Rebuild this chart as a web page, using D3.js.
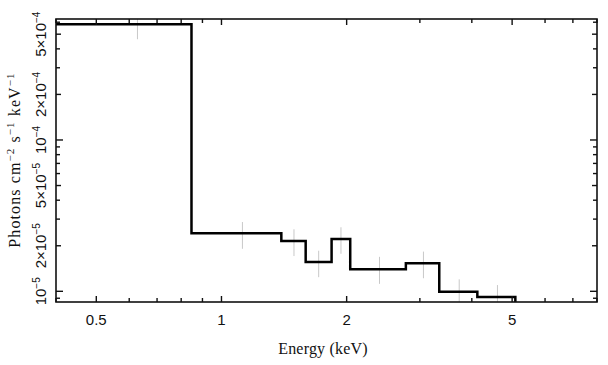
<!DOCTYPE html>
<html><head><meta charset="utf-8">
<script src="https://cdn.jsdelivr.net/npm/d3@7"></script>
<style>
body{margin:0;background:#fff;}
svg{display:block;}
.tick{font-family:"Liberation Sans",Arial,sans-serif;}
</style></head>
<body><svg id="c" width="608" height="365"></svg>
<script>
// ---- data ----
const binLo = [0.30, 0.847, 1.393, 1.594, 1.840, 2.040, 2.776, 3.34, 4.124];
const binHi = [0.847, 1.393, 1.594, 1.840, 2.040, 2.776, 3.34, 4.124, 5.09];
const flux  = [5.82e-4, 2.42e-5, 2.15e-5, 1.56e-5, 2.22e-5, 1.40e-5, 1.53e-5, 9.95e-6, 9.17e-6];
const errE  = [0.628, 1.123, 1.494, 1.713, 1.938, 2.399, 3.06, 3.73, 4.61];
const errLo = [4.63e-4, 1.91e-5, 1.71e-5, 1.24e-5, 1.77e-5, 1.12e-5, 1.22e-5, 7.9e-6, 7.3e-6];
const errHi = [7.0e-4, 2.87e-5, 2.57e-5, 1.855e-5, 2.65e-5, 1.69e-5, 1.83e-5, 1.2e-5, 1.1e-5];
const xTickLabels = [0.5, 1, 2, 5];
const xMinor = [0.4, 0.6, 0.7, 0.8, 0.9, 3, 4, 6, 7, 8];
const yTickLabels = [[1e-5, "", "5"], [2e-5, "2×", "5"], [5e-5, "5×", "5"], [1e-4, "", "4"], [2e-4, "2×", "4"], [5e-4, "5×", "4"]];
const yMinor = [9e-6, 3e-5, 4e-5, 6e-5, 7e-5, 8e-5, 9e-5, 3e-4, 4e-4, 6e-4];

// ---- layout ----
const L = 56, R = 597, T = 19, B = 302;
const svg = d3.select("#c");
const x = d3.scaleLog().domain([0.4, 8]).range([L, R]);
const y = d3.scaleLog().domain([8.5e-6, 6.3e-4]).range([B, T]);

svg.append("clipPath").attr("id", "clip").append("rect")
  .attr("x", L).attr("y", T).attr("width", R - L).attr("height", B - T);
const plot = svg.append("g").attr("clip-path", "url(#clip)");

// error bars
plot.selectAll("line.err").data(flux).join("line").attr("class", "err")
  .attr("x1", (d, i) => x(errE[i])).attr("x2", (d, i) => x(errE[i]))
  .attr("y1", (d, i) => y(errLo[i])).attr("y2", (d, i) => y(errHi[i]))
  .attr("stroke", "#c8c8c8").attr("stroke-width", 1);

// step histogram
const pts = [];
flux.forEach((f, i) => { pts.push([binLo[i], f]); pts.push([binHi[i], f]); });
pts.push([binHi[binHi.length - 1], 1e-6]);
plot.append("path")
  .attr("d", d3.line().x(d => x(d[0])).y(d => y(d[1]))(pts))
  .attr("fill", "none").attr("stroke", "#000").attr("stroke-width", 2.5)
  .attr("stroke-linejoin", "miter");

// frame
svg.append("rect").attr("x", L).attr("y", T).attr("width", R - L).attr("height", B - T)
  .attr("fill", "none").attr("stroke", "#111").attr("stroke-width", 1.6);

// x ticks (inward, bottom and top)
const xT = xTickLabels.map(v => [v, 6]).concat(xMinor.map(v => [v, 4]));
xT.forEach(([v, len]) => {
  const px = x(v);
  svg.append("line").attr("x1", px).attr("x2", px).attr("y1", B).attr("y2", B - len)
    .attr("stroke", "#111").attr("stroke-width", 1.4);
  svg.append("line").attr("x1", px).attr("x2", px).attr("y1", T).attr("y2", T + len)
    .attr("stroke", "#111").attr("stroke-width", 1.4);
});
svg.selectAll("text.xl").data(xTickLabels).join("text").attr("class", "tick xl")
  .attr("x", d => x(d)).attr("y", 325).attr("text-anchor", "middle")
  .attr("font-size", 15).attr("fill", "#111").text(d => d);

// y ticks
const yT = yTickLabels.map(d => [d[0], d[1] === "" ? 7 : 5]).concat(yMinor.map(v => [v, 4]));
yT.forEach(([v, len]) => {
  const py = y(v);
  svg.append("line").attr("x1", L).attr("x2", L + len).attr("y1", py).attr("y2", py)
    .attr("stroke", "#111").attr("stroke-width", 1.4);
  svg.append("line").attr("x1", R).attr("x2", R - len).attr("y1", py).attr("y2", py)
    .attr("stroke", "#111").attr("stroke-width", 1.4);
});
yTickLabels.forEach(([v, pre, ex]) => {
  const t = svg.append("text").attr("class", "tick")
    .attr("transform", `translate(46,${y(v)}) rotate(-90)`)
    .attr("text-anchor", "middle").attr("font-size", 15).attr("fill", "#111");
  t.append("tspan").text(pre + "10");
  t.append("tspan").attr("font-size", 10).attr("dy", -6).text("−" + ex);
});

// axis titles
const serif = "Liberation Serif, Times New Roman, serif";
svg.append("text").attr("x", 323).attr("y", 354).attr("text-anchor", "middle")
  .attr("font-family", serif).attr("font-size", 16).attr("letter-spacing", 0.2)
  .attr("fill", "#111").text("Energy (keV)");
const yt = svg.append("text").attr("transform", "translate(20,160) rotate(-90)")
  .attr("text-anchor", "middle")
  .attr("font-family", serif).attr("font-size", 16).attr("letter-spacing", 1.1)
  .attr("fill", "#111");
yt.append("tspan").text("Photons cm");
yt.append("tspan").attr("font-size", 11).attr("dy", -6).text("−2");
yt.append("tspan").attr("dy", 6).text(" s");
yt.append("tspan").attr("font-size", 11).attr("dy", -6).text("−1");
yt.append("tspan").attr("dy", 6).text(" keV");
yt.append("tspan").attr("font-size", 11).attr("dy", -6).text("−1");
</script></body></html>
